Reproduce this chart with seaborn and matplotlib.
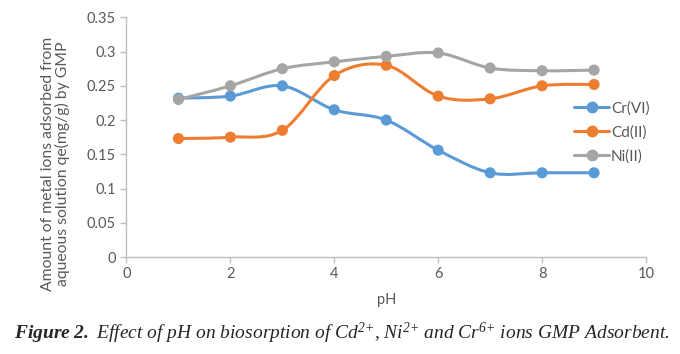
import numpy as np
import pandas as pd
import seaborn as sns
import matplotlib.pyplot as plt
from matplotlib.path import Path
from matplotlib.patches import PathPatch
from matplotlib.lines import Line2D

ph = [1, 2, 3, 4, 5, 6, 7, 8, 9]
cr6 = [0.232, 0.235, 0.250, 0.215, 0.200, 0.156, 0.123, 0.123, 0.123]
cd2 = [0.173, 0.175, 0.185, 0.265, 0.280, 0.235, 0.231, 0.250, 0.252]
ni2 = [0.230, 0.250, 0.275, 0.285, 0.293, 0.298, 0.276, 0.272, 0.273]
series = ["Cr(VI)", "Cd(II)", "Ni(II)"]
colors = ["#5B9BD5", "#ED7D31", "#A5A5A5"]

df = pd.DataFrame({"pH": ph * 3,
                   "q": cr6 + cd2 + ni2,
                   "ion": sum([[s] * len(ph) for s in series], [])})

sns.set_style("white")
plt.rcParams['font.family'] = ['Lato', 'DejaVu Sans']
plt.rcParams['mathtext.fontset'] = 'custom'
plt.rcParams['mathtext.rm'] = 'Liberation Serif:italic'
plt.rcParams['mathtext.it'] = 'Liberation Serif:italic'
plt.rcParams['mathtext.bf'] = 'Liberation Serif:bold:italic'

fig = plt.figure(figsize=(6.8, 3.54), dpi=100)
ax = fig.add_axes([0.186, 0.274, 0.764, 0.677])


def smooth_path(xs, ys):
    # excel-like smoothed line: catmull-rom segments as cubic beziers
    pts = np.column_stack([xs, ys]).astype(float)
    verts = [pts[0]]
    codes = [Path.MOVETO]
    n = len(pts)
    for i in range(n - 1):
        p0 = pts[max(i - 1, 0)]
        p1 = pts[i]
        p2 = pts[i + 1]
        p3 = pts[min(i + 2, n - 1)]
        c1 = p1 + (p2 - p0) / 6
        c2 = p2 - (p3 - p1) / 6
        verts += [c1, c2, p2]
        codes += [Path.CURVE4] * 3
    return Path(verts, codes)


handles = []
for s, c in zip(series, colors):
    d = df[df["ion"] == s]
    ax.add_patch(PathPatch(smooth_path(d["pH"], d["q"]), fill=False,
                           edgecolor=c, lw=2.2, zorder=2))
    handles.append(Line2D([], [], color=c, lw=2.2, marker="o", markersize=7.5))

sns.scatterplot(data=df, x="pH", y="q", hue="ion", palette=colors,
                s=64, edgecolor="none", legend=False, zorder=3, ax=ax)

ax.set_xlim(0, 10)
ax.set_ylim(0, 0.35)
ax.set_xticks(range(0, 11, 2))
ax.set_yticks(np.arange(0, 0.351, 0.05))
ax.set_yticklabels(["0", "0.05", "0.1", "0.15", "0.2", "0.25", "0.3", "0.35"])
sns.despine(ax=ax)
for sp in ["left", "bottom"]:
    ax.spines[sp].set_color("#BFBFBF")
    ax.spines[sp].set_linewidth(1)
ax.tick_params(axis="both", colors="#BFBFBF", labelcolor="#595959",
               labelsize=10.5, length=4, width=1, direction="out",
               bottom=True, left=True)
ax.set_xlabel("pH", fontsize=10.5, color="#595959", labelpad=8)
ax.set_ylabel("Amount of metal ions adsorbed from\naqueous solution qe(mg/g) by GMP",
              fontsize=11.3, color="#595959", linespacing=1.05)
ax.yaxis.set_label_coords(-0.108, 0.39)

ax.legend(handles, series, loc="center left", bbox_to_anchor=(0.862, 0.52),
          frameon=False, fontsize=11, labelcolor="#595959", handlelength=2.3,
          handletextpad=0.1, labelspacing=0.62, borderaxespad=0, borderpad=0)

fig.text(0.502, 0.058,
         r"$\mathbf{Figure\ 2.}$ Effect of pH on biosorption of Cd$^{2{+}}$, Ni$^{2{+}}$ and Cr$^{6{+}}$ ions GMP Adsorbent.",
         ha="center", va="center", fontsize=14.0, family="Liberation Serif",
         style="italic")

plt.savefig("out.png", dpi=100, facecolor="w")
